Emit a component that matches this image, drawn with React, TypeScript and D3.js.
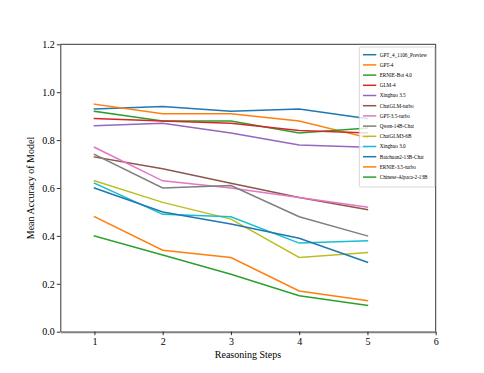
import React, { useEffect, useRef } from 'react'
import * as d3 from 'd3'

// reasoning steps on the x axis
const steps = [1, 2, 3, 4, 5]
const xTicks = [1, 2, 3, 4, 5, 6]
const yTicks = [0.0, 0.2, 0.4, 0.6, 0.8, 1.0, 1.2]

const models = [
  'GPT_4_1106_Preview',
  'GPT-4',
  'ERNIE-Bot 4.0',
  'GLM-4',
  'Xinghuo 3.5',
  'ChatGLM-turbo',
  'GPT-3.5-turbo',
  'Qwen-14B-Chat',
  'ChatGLM3-6B',
  'Xinghuo 3.0',
  'Baichuan2-13B-Chat',
  'ERNIE-3.5-turbo',
  'Chinese-Alpaca-2-13B',
]

// mean accuracy per step, one array per model
const gpt4Preview = [0.93, 0.94, 0.92, 0.93, 0.89]
const gpt4 = [0.95, 0.91, 0.91, 0.88, 0.81]
const ernieBot4 = [0.92, 0.88, 0.88, 0.83, 0.85]
const glm4 = [0.89, 0.88, 0.87, 0.84, 0.83]
const xinghuo35 = [0.86, 0.87, 0.83, 0.78, 0.77]
const chatglmTurbo = [0.73, 0.68, 0.62, 0.56, 0.51]
const gpt35Turbo = [0.77, 0.63, 0.6, 0.56, 0.52]
const qwen14b = [0.74, 0.6, 0.61, 0.48, 0.4]
const chatglm3 = [0.63, 0.54, 0.47, 0.31, 0.33]
const xinghuo30 = [0.62, 0.49, 0.48, 0.37, 0.38]
const baichuan2 = [0.6, 0.5, 0.45, 0.39, 0.29]
const ernie35Turbo = [0.48, 0.34, 0.31, 0.17, 0.13]
const alpaca2 = [0.4, 0.32, 0.24, 0.15, 0.11]

const series = [
  gpt4Preview, gpt4, ernieBot4, glm4, xinghuo35, chatglmTurbo, gpt35Turbo,
  qwen14b, chatglm3, xinghuo30, baichuan2, ernie35Turbo, alpaca2,
]

const colors = [
  '#1f77b4', '#ff7f0e', '#2ca02c', '#d62728', '#9467bd', '#8c564b', '#e377c2',
  '#7f7f7f', '#bcbd22', '#17becf', '#1f77b4', '#ff7f0e', '#2ca02c',
]

const W = 484
const H = 373
const FONT = '"Liberation Serif", "Times New Roman", serif'

export default function App() {
  const ref = useRef<SVGSVGElement>(null)

  useEffect(() => {
    const node = ref.current
    if (!node) return
    const svg = d3.select(node)
    svg.selectAll('*').remove()

    const m = { left: 60.3, right: 435.7, top: 44.3, bottom: 331.7 }

    const x = d3.scaleLinear().domain([0.5, 6]).range([m.left, m.right])
    const y = d3.scaleLinear().domain([0, 1.2]).range([m.bottom, m.top])

    const line = d3.line<number>()
      .x((_, i) => x(steps[i]))
      .y(d => y(d))

    svg.append('g')
      .selectAll('path')
      .data(series)
      .join('path')
      .attr('d', d => line(d))
      .attr('fill', 'none')
      .attr('stroke', (_, i) => colors[i])
      .attr('stroke-width', 1.5)
      .attr('stroke-linecap', 'square')

    // frame
    svg.append('line')
      .attr('x1', m.left).attr('x2', m.right)
      .attr('y1', m.top).attr('y2', m.top)
      .attr('stroke', '#000').attr('stroke-width', 0.8)
    svg.append('line')
      .attr('x1', m.right).attr('x2', m.right)
      .attr('y1', m.top).attr('y2', m.bottom)
      .attr('stroke', '#000').attr('stroke-width', 0.8)

    const yAxis = svg.append('g')
      .attr('transform', `translate(${m.left},0)`)
      .call(d3.axisLeft(y).tickValues(yTicks).tickFormat(d3.format('.1f')).tickSize(3.5).tickSizeOuter(0))
    yAxis.select('.domain').attr('stroke', '#000').attr('stroke-width', 0.8)
    yAxis.selectAll('.tick line').attr('stroke', '#000').attr('stroke-width', 0.8)
    yAxis.selectAll('.tick text')
      .attr('font-family', FONT).attr('font-size', 10).attr('fill', '#000')
      .attr('x', -5.5)

    const xAxis = svg.append('g')
      .attr('transform', `translate(0,${m.bottom})`)
      .call(d3.axisBottom(x).tickValues(xTicks).tickFormat(d3.format('d')).tickSize(3.5).tickSizeOuter(0))
    xAxis.select('.domain').attr('stroke', '#808080').attr('stroke-width', 2)
    xAxis.selectAll('.tick line').attr('stroke', '#000').attr('stroke-width', 0.8)
    xAxis.selectAll('.tick text')
      .attr('font-family', FONT).attr('font-size', 10).attr('fill', '#000')
      .attr('y', 6)

    svg.append('text')
      .attr('x', (m.left + m.right) / 2)
      .attr('y', 358)
      .attr('text-anchor', 'middle')
      .attr('font-family', FONT)
      .attr('font-size', 10)
      .text('Reasoning Steps')

    svg.append('text')
      .attr('transform', `translate(34,${(m.top + m.bottom) / 2}) rotate(-90)`)
      .attr('text-anchor', 'middle')
      .attr('font-family', FONT)
      .attr('font-size', 10)
      .text('Mean Accuracy of Model')

    // legend
    const lg = svg.append('g').attr('transform', 'translate(359.3,47)')
    lg.append('rect')
      .attr('width', 75.5).attr('height', 140)
      .attr('rx', 1.5)
      .attr('fill', '#fff').attr('fill-opacity', 0.8)
      .attr('stroke', '#ccc').attr('stroke-width', 0.8)
    const item = lg.selectAll('g.item')
      .data(models)
      .join('g')
      .attr('class', 'item')
      .attr('transform', (_, i) => `translate(0,${7.7 + i * 10.2})`)
    item.append('line')
      .attr('x1', 3.7).attr('x2', 17)
      .attr('stroke', (_, i) => colors[i])
      .attr('stroke-width', 1.5)
    item.append('text')
      .attr('x', 20.4)
      .attr('dy', '0.35em')
      .attr('font-family', FONT)
      .attr('font-size', 5.2)
      .text(d => d)
  }, [])

  return <svg ref={ref} width={W} height={H} style={{ display: 'block', margin: -8 }} />
}
